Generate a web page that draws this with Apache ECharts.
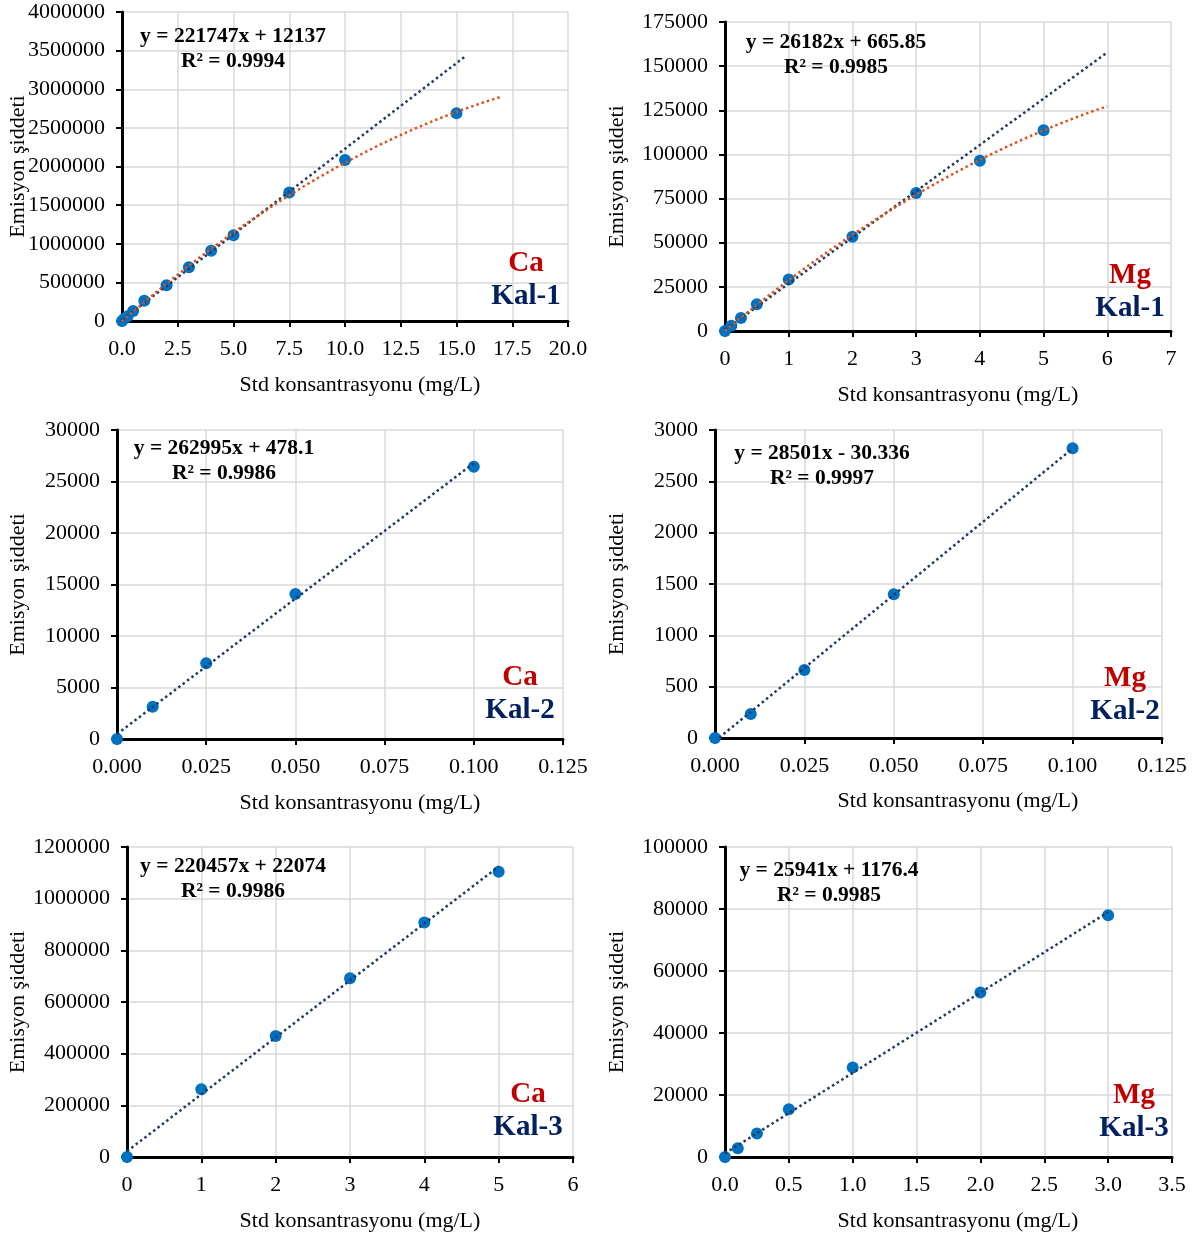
<!DOCTYPE html>
<html><head><meta charset="utf-8">
<script src="https://cdn.jsdelivr.net/npm/echarts@6/dist/echarts.min.js"></script>
<style>html,body{margin:0;padding:0;background:#fff}#c{width:1197px;height:1238px}</style>
</head><body><div id="c"></div>
<script>
// ---- data ----
const caKal1X = [0, 0.1, 0.25, 0.5, 1, 2, 3, 4, 5, 7.5, 10, 15];
const caKal1Y = [0, 30000, 62000, 130000, 262000, 463000, 695000, 908000, 1109000, 1662000, 2084000, 2689000];
const mgKal1X = [0, 0.1, 0.25, 0.5, 1, 2, 3, 4, 5];
const mgKal1Y = [0, 3000, 7300, 15200, 29200, 53400, 78200, 96400, 113700];
const caKal2X = [0, 0.01, 0.025, 0.05, 0.1];
const caKal2Y = [0, 3140, 7350, 14080, 26440];
const mgKal2X = [0, 0.01, 0.025, 0.05, 0.1];
const mgKal2Y = [0, 234, 662, 1400, 2822];
const caKal3X = [0, 1, 2, 3, 4, 5];
const caKal3Y = [0, 262000, 468000, 692000, 908000, 1104000];
const mgKal3X = [0, 0.1, 0.25, 0.5, 1, 2, 3];
const mgKal3Y = [0, 2800, 7600, 15400, 28900, 53100, 78000];

// linear trendline equations as printed on the chart
const linSlope     = [221747, 26182, 262995, 28501, 220457, 25941];
const linIntercept = [12137, 665.85, 478.1, -30.336, 22074, 1176.4];
const linXEnd      = [15.4, 6, 0.1, 0.1, 5, 3];
const eqText = ['y = 221747x + 12137', 'y = 26182x + 665.85', 'y = 262995x + 478.1',
                'y = 28501x - 30.336', 'y = 220457x + 22074', 'y = 25941x + 1176.4'];
const r2Text = ['R² = 0.9994', 'R² = 0.9985', 'R² = 0.9986', 'R² = 0.9997', 'R² = 0.9986', 'R² = 0.9985'];
const elemText = ['Ca', 'Mg', 'Ca', 'Mg', 'Ca', 'Mg'];
const kalText = ['Kal-1', 'Kal-1', 'Kal-2', 'Kal-2', 'Kal-3', 'Kal-3'];
// polynomial (2nd order) trendline extents for the Kal-1 panels
const polyXEnd = [17, 6];

// axis ranges
const xMax = [20, 7, 0.125, 0.125, 6, 3.5];
const xInt = [2.5, 1, 0.025, 0.025, 1, 0.5];
const xDec = [1, 0, 3, 3, 0, 1];
const yMax = [4000000, 175000, 30000, 3000, 1200000, 100000];
const yInt = [500000, 25000, 5000, 500, 200000, 20000];

const xTitle = 'Std konsantrasyonu (mg/L)';
const yTitle = 'Emisyon şiddeti';

// ---- layout ----
const grids = [
  {left: 122, top: 12,  width: 446, height: 309},
  {left: 725, top: 22,  width: 446, height: 309},
  {left: 117, top: 430, width: 446, height: 309},
  {left: 715, top: 430, width: 447, height: 308},
  {left: 127, top: 847, width: 446, height: 310},
  {left: 725, top: 847, width: 447, height: 310}
];
const eqPos   = [[233, 36], [836, 42], [224, 448], [822, 453], [233, 866], [829, 870]];
const lblPos  = [[526, 264], [1130, 276], [520, 678], [1125, 679], [528, 1095], [1134, 1096]];
const xTitlePos = [[360, 385], [958, 395], [360, 803], [958, 801], [360, 1221], [958, 1221]];
const yTitleX = [18, 617, 18, 617, 18, 617];

const FONT = '"Liberation Serif","Times New Roman",serif';
const xs = [caKal1X, mgKal1X, caKal2X, mgKal2X, caKal3X, mgKal3X];
const ys = [caKal1Y, mgKal1Y, caKal2Y, mgKal2Y, caKal3Y, mgKal3Y];

function quadFit(x, y) {
  // least squares y = a + b x + c x^2
  let S = [0,0,0,0,0], T = [0,0,0];
  for (let i = 0; i < x.length; i++) {
    let p = 1;
    for (let k = 0; k < 5; k++) { S[k] += p; if (k < 3) T[k] += p * y[i]; p *= x[i]; }
  }
  const M = [[S[0],S[1],S[2],T[0]],[S[1],S[2],S[3],T[1]],[S[2],S[3],S[4],T[2]]];
  for (let c = 0; c < 3; c++) {
    for (let r = c + 1; r < 3; r++) {
      const f = M[r][c] / M[c][c];
      for (let k = c; k < 4; k++) M[r][k] -= f * M[c][k];
    }
  }
  const s = [0,0,0];
  for (let r = 2; r >= 0; r--) {
    let v = M[r][3];
    for (let k = r + 1; k < 3; k++) v -= M[r][k] * s[k];
    s[r] = v / M[r][r];
  }
  return s;
}

const option = {
  backgroundColor: '#ffffff',
  animation: false,
  grid: grids.map(g => Object.assign({containLabel: false}, g)),
  xAxis: [], yAxis: [], series: [], graphic: []
};

for (let i = 0; i < 6; i++) {
  option.xAxis.push({
    type: 'value', gridIndex: i, min: 0, max: xMax[i], interval: xInt[i],
    axisLine: {show: true, onZero: false, lineStyle: {color: '#000', width: 3}},
    axisTick: {show: true, length: 6, lineStyle: {color: '#000', width: 2}},
    axisLabel: {fontFamily: FONT, fontSize: 22, color: '#000', margin: 17,
      formatter: v => Number(v).toFixed(xDec[i])},
    splitLine: {show: true, lineStyle: {color: '#d9d9d9', width: 1.5}}
  });
  option.yAxis.push({
    type: 'value', gridIndex: i, min: 0, max: yMax[i], interval: yInt[i],
    axisLine: {show: true, onZero: false, lineStyle: {color: '#000', width: 3}},
    axisTick: {show: true, length: 6, lineStyle: {color: '#000', width: 2}},
    axisLabel: {fontFamily: FONT, fontSize: 22, color: '#000', margin: 17,
      formatter: v => String(Math.round(v))},
    splitLine: {show: true, lineStyle: {color: '#d9d9d9', width: 1.5}}
  });
  option.series.push({
    type: 'scatter', xAxisIndex: i, yAxisIndex: i, symbolSize: 12, z: 2,
    itemStyle: {color: '#0070c0', opacity: 1},
    data: xs[i].map((x, k) => [x, ys[i][k]])
  });
  const b = linIntercept[i], m = linSlope[i];
  option.series.push({
    type: 'line', xAxisIndex: i, yAxisIndex: i, showSymbol: false, symbol: 'none', z: 4,
    clip: true,
    lineStyle: {color: '#1f3864', width: 2.5, type: [2.5, 3]},
    data: [[0, b], [linXEnd[i], m * linXEnd[i] + b]]
  });
  if (i < 2) {
    const c = quadFit(xs[i], ys[i]);
    const n = 60, pts = [];
    for (let k = 0; k <= n; k++) {
      const x = polyXEnd[i] * k / n;
      pts.push([x, c[0] + c[1] * x + c[2] * x * x]);
    }
    option.series.push({
      type: 'line', xAxisIndex: i, yAxisIndex: i, showSymbol: false, symbol: 'none', z: 5,
      clip: true,
      lineStyle: {color: '#dc521c', width: 2.5, type: [2.5, 3]},
      data: pts
    });
  }
  // texts
  option.graphic.push({type: 'text', x: eqPos[i][0], y: eqPos[i][1], z: 10,
    style: {text: eqText[i], font: 'bold 21.5px ' + FONT, fill: '#000', textAlign: 'center', textVerticalAlign: 'middle'}});
  option.graphic.push({type: 'text', x: eqPos[i][0], y: eqPos[i][1] + 25, z: 10,
    style: {text: r2Text[i], font: 'bold 21.5px ' + FONT, fill: '#000', textAlign: 'center', textVerticalAlign: 'middle'}});
  option.graphic.push({type: 'text', x: lblPos[i][0], y: lblPos[i][1], z: 10,
    style: {text: elemText[i], font: 'bold 29px ' + FONT, fill: '#c00000', textAlign: 'center', textVerticalAlign: 'middle'}});
  option.graphic.push({type: 'text', x: lblPos[i][0], y: lblPos[i][1] + 33, z: 10,
    style: {text: kalText[i], font: 'bold 29px ' + FONT, fill: '#002060', textAlign: 'center', textVerticalAlign: 'middle'}});
  option.graphic.push({type: 'text', x: xTitlePos[i][0], y: xTitlePos[i][1], z: 10,
    style: {text: xTitle, font: '22px ' + FONT, fill: '#000', textAlign: 'center', textVerticalAlign: 'middle'}});
  const g = grids[i];
  option.graphic.push({type: 'text', x: yTitleX[i], y: g.top + g.height / 2, rotation: Math.PI / 2, z: 10,
    style: {text: yTitle, font: '22px ' + FONT, fill: '#000', textAlign: 'center', textVerticalAlign: 'middle'}});
}

const chart = echarts.init(document.getElementById('c'), null, {renderer: 'canvas'});
chart.setOption(option);
</script>
</body></html>
